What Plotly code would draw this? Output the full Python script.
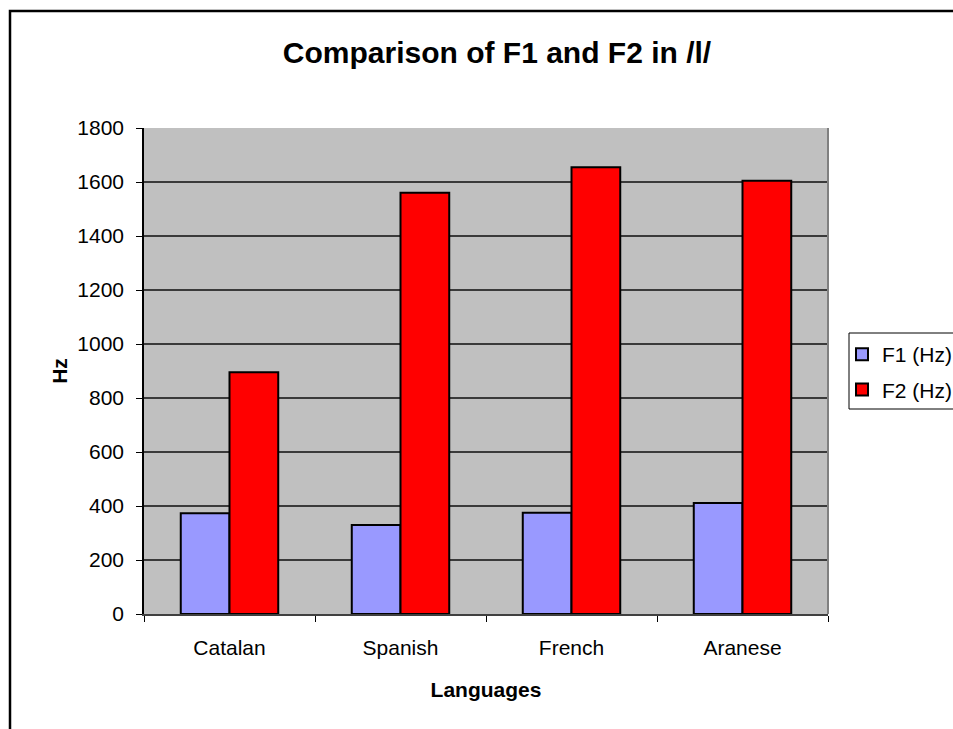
import plotly.graph_objects as go

languages = ["Catalan", "Spanish", "French", "Aranese"]
f1_hz = [373, 330, 375, 411]
f2_hz = [895, 1560, 1655, 1605]
series_names = ["F1 (Hz)", "F2 (Hz)"]

fig = go.Figure()
fig.add_trace(go.Bar(x=languages, y=f1_hz, name=series_names[0], legendgroup="f1",
                     marker=dict(color="#9999FF", line=dict(color="black", width=2))))
fig.add_trace(go.Bar(x=languages, y=f2_hz, name=series_names[1], legendgroup="f2",
                     marker=dict(color="#FF0000", line=dict(color="black", width=2))))

W, H = 953, 729
L, R, T, B = 144, 125, 128, 115
pw, ph = W - L - R, H - T - B

fig.update_layout(
    width=W, height=H,
    margin=dict(l=L, r=R, t=T, b=B, pad=0),
    paper_bgcolor="white",
    plot_bgcolor="#C0C0C0",
    font=dict(family="Liberation Sans, Arial", size=21, color="black"),
    barmode="group",
    bargap=0.43,
    bargroupgap=0,
    title=dict(text="<b>Comparison of F1 and F2 in /l/</b>", font=dict(size=30),
               x=497 / W, xanchor="center", y=1 - 52 / H, yanchor="middle"),
    legend=dict(xref="container", yref="container",
                x=842 / W, xanchor="left", y=1 - 372 / H, yanchor="middle",
                borderwidth=0, bgcolor="rgba(0,0,0,0)",
                traceorder="grouped",
                font=dict(size=21), itemwidth=30, tracegroupgap=5),
    showlegend=True,
)
fig.update_xaxes(
    showline=True, linecolor="#404040", linewidth=1.5,
    ticks="outside", tickson="boundaries", ticklen=6, tickcolor="black",
    ticklabelstandoff=14,
    title=dict(text="<b>Languages</b>", font=dict(size=21), standoff=24),
    showgrid=False, mirror=False,
)
fig.update_yaxes(
    range=[0, 1800], dtick=200,
    showline=True, linecolor="black", linewidth=1.5,
    ticks="outside", ticklen=6, tickcolor="black",
    ticklabelstandoff=8,
    showgrid=True, gridcolor="#3a3a3a", gridwidth=1.5,
    zeroline=False,
    title=dict(text="<b>Hz</b>", font=dict(size=21), standoff=4),
)
# plot area right border
fig.add_shape(type="line", xref="paper", yref="paper", x0=1, x1=1, y0=0, y1=1,
              line=dict(color="#808080", width=2))
# legend box (cropped on right)
fig.add_shape(type="rect", xref="paper", yref="paper", layer="below",
              x0=(849 - L) / pw, x1=(W + 20 - L) / pw,
              y0=(H - B - 409) / ph, y1=(H - B - 333) / ph,
              line=dict(color="black", width=1), fillcolor="white")
# chart outer border (cropped on right/bottom)
fig.add_shape(type="rect", xref="paper", yref="paper",
              x0=(10 - L) / pw, x1=(W + 20 - L) / pw,
              y0=(H - B - (H + 20)) / ph, y1=(H - B - 11) / ph,
              line=dict(color="black", width=2.5), fillcolor="rgba(0,0,0,0)", layer="above")

fig.write_html(
    "out.html",
    config={"displayModeBar": False},
    post_script="document.body.style.margin='0';document.body.style.overflow='hidden';",
)
